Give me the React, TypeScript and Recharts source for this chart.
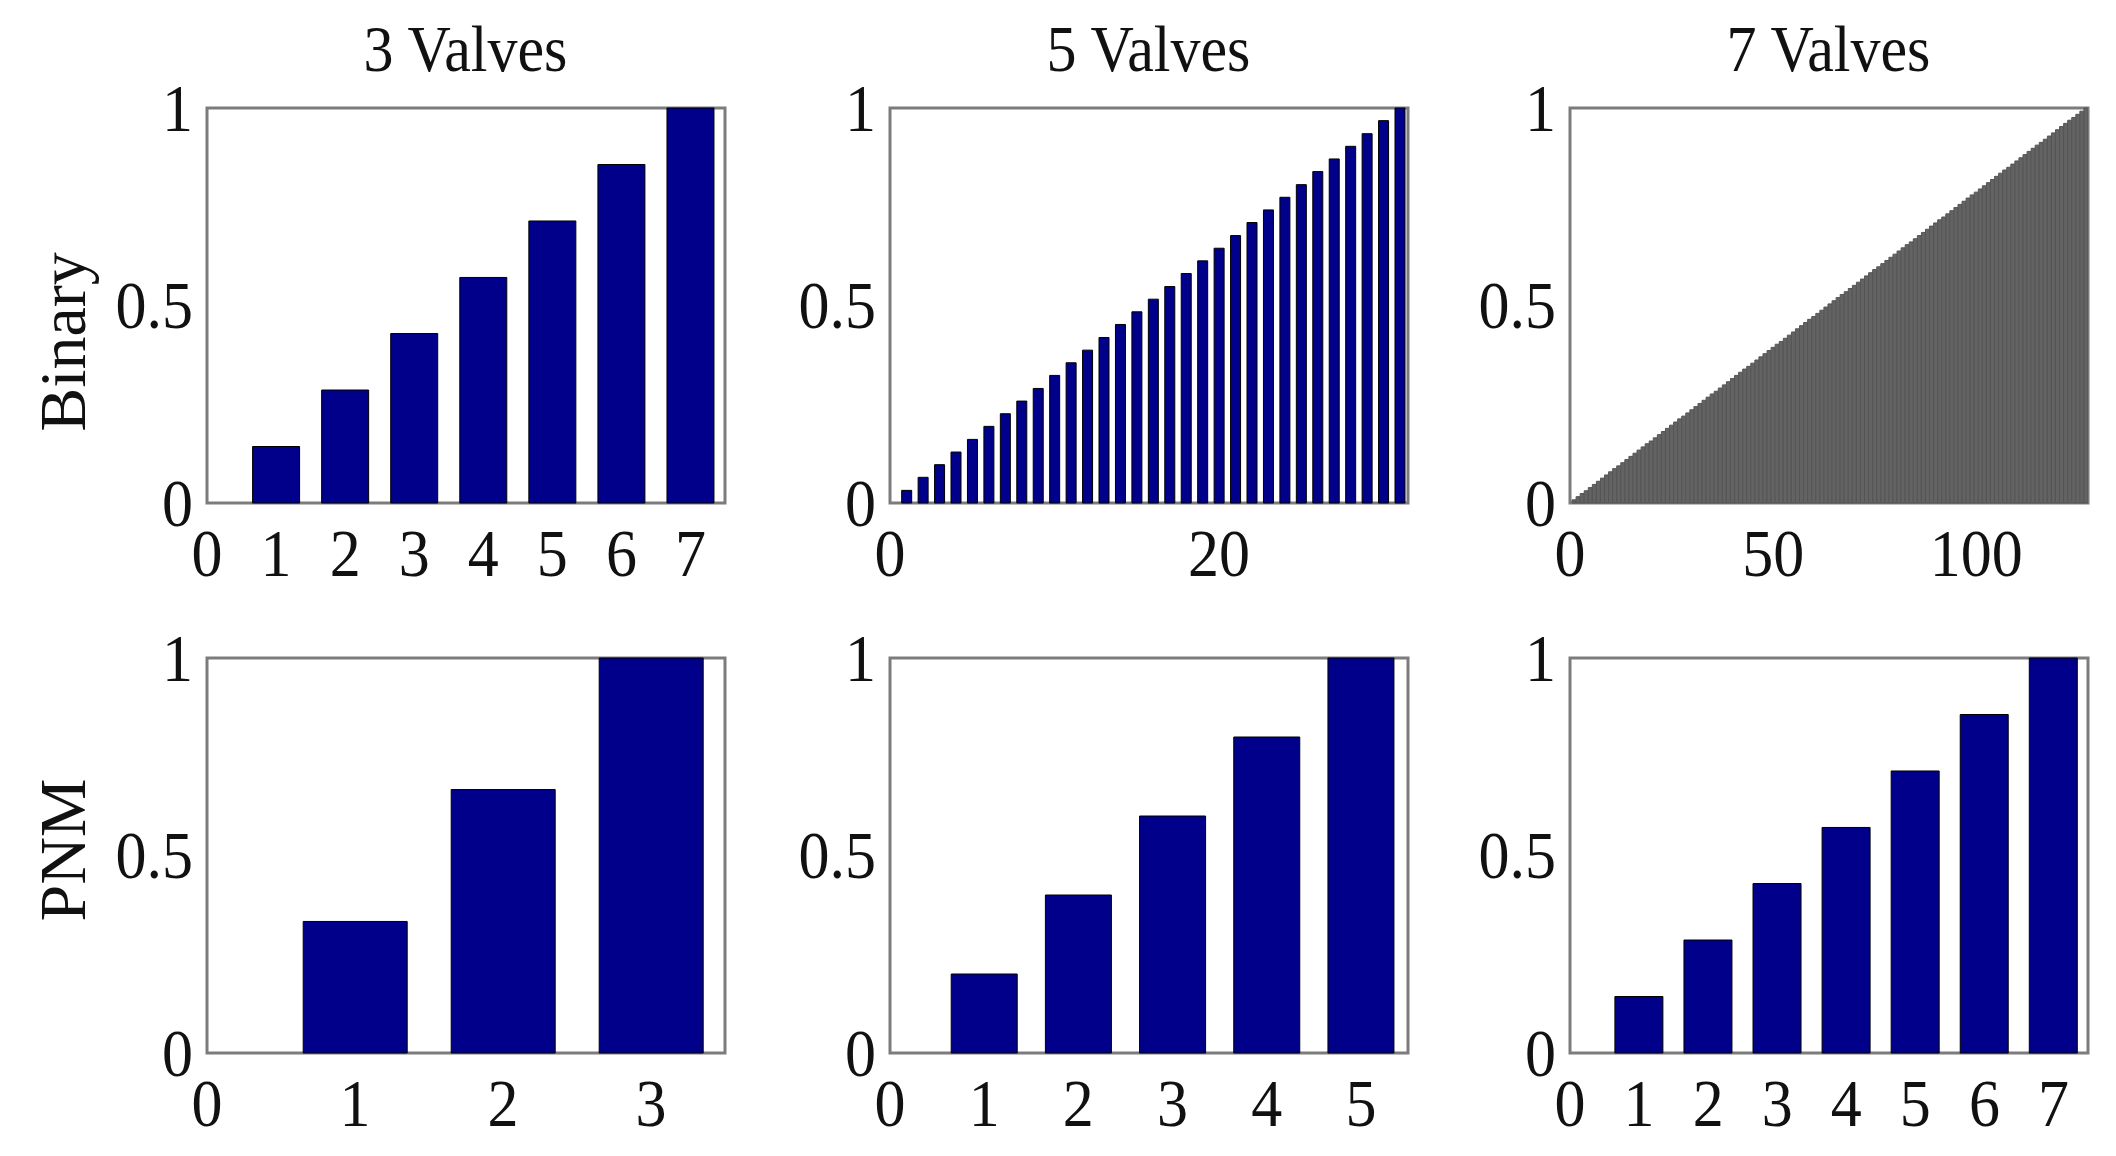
import React from "react";
import { BarChart, Bar, XAxis, YAxis, ReferenceArea } from "recharts";

// bar heights (normalised opening per valve state)
const binary3 = [0.143, 0.286, 0.429, 0.571, 0.714, 0.857, 1.0];
const binary5 = [
  0.032, 0.065, 0.097, 0.129, 0.161, 0.194, 0.226, 0.258, 0.29, 0.323, 0.355,
  0.387, 0.419, 0.452, 0.484, 0.516, 0.548, 0.581, 0.613, 0.645, 0.677, 0.71,
  0.742, 0.774, 0.806, 0.839, 0.871, 0.903, 0.935, 0.968, 1.0,
];
const binary7 = [
  0.008, 0.016, 0.024, 0.031, 0.039, 0.047, 0.055, 0.063, 0.071, 0.079, 0.087,
  0.094, 0.102, 0.11, 0.118, 0.126, 0.134, 0.142, 0.15, 0.157, 0.165, 0.173,
  0.181, 0.189, 0.197, 0.205, 0.213, 0.22, 0.228, 0.236, 0.244, 0.252, 0.26,
  0.268, 0.276, 0.283, 0.291, 0.299, 0.307, 0.315, 0.323, 0.331, 0.339, 0.346,
  0.354, 0.362, 0.37, 0.378, 0.386, 0.394, 0.402, 0.409, 0.417, 0.425, 0.433,
  0.441, 0.449, 0.457, 0.465, 0.472, 0.48, 0.488, 0.496, 0.504, 0.512, 0.52,
  0.528, 0.535, 0.543, 0.551, 0.559, 0.567, 0.575, 0.583, 0.591, 0.598, 0.606,
  0.614, 0.622, 0.63, 0.638, 0.646, 0.654, 0.661, 0.669, 0.677, 0.685, 0.693,
  0.701, 0.709, 0.717, 0.724, 0.732, 0.74, 0.748, 0.756, 0.764, 0.772, 0.78,
  0.787, 0.795, 0.803, 0.811, 0.819, 0.827, 0.835, 0.843, 0.85, 0.858, 0.866,
  0.874, 0.882, 0.89, 0.898, 0.906, 0.913, 0.921, 0.929, 0.937, 0.945, 0.953,
  0.961, 0.969, 0.976, 0.984, 0.992, 1.0,
];
const pnm3 = [0.333, 0.667, 1.0];
const pnm5 = [0.2, 0.4, 0.6, 0.8, 1.0];
const pnm7 = [0.143, 0.286, 0.429, 0.571, 0.714, 0.857, 1.0];

const titles = ["3 Valves", "5 Valves", "7 Valves"];
const rowLabels = ["Binary", "PNM"];
const yTicks = [0, 0.5, 1];
const ticks3 = [0, 1, 2, 3, 4, 5, 6, 7];
const ticks5 = [0, 20];
const ticks7 = [0, 50, 100];
const ticksPnm3 = [0, 1, 2, 3];
const ticksPnm5 = [0, 1, 2, 3, 4, 5];
const ticksPnm7 = [0, 1, 2, 3, 4, 5, 6, 7];

const FONT = "'Liberation Serif', 'Times New Roman', serif";
const NAVY = "#00008a";
const BOX = "#7c7c7c";
const PW = 517;
const PH = 394;
const LEFTS = [207, 890, 1570];
const TOPS = [109, 659];
const MT = 60;

const XTick = (props: any) => {
  const { x, y, payload } = props;
  return (
    <g transform={`translate(${x},${y})`}>
      <text transform="scale(1,1.08)" y={68} textAnchor="middle" fontFamily={FONT} fontSize={62} fill="#111">
        {payload.value}
      </text>
    </g>
  );
};

const YTick = (props: any) => {
  const { x, y, payload } = props;
  return (
    <g transform={`translate(${x},${y})`}>
      <text transform="scale(1,1.08)" x={-14} y={21} textAnchor="end" fontFamily={FONT} fontSize={62} fill="#111">
        {payload.value}
      </text>
    </g>
  );
};

type PanelProps = {
  values: number[];
  xTicks: number[];
  xMax: number;
  gap: string;
  fill: string;
  stroke: string;
  col: number;
  row: number;
};

function Panel({ values, xTicks, xMax, gap, fill, stroke, col, row }: PanelProps) {
  const data = values.map((v, i) => ({ x: i + 1, v }));
  const inner = xTicks.filter((t) => t > 0 && t < xMax);
  return (
    <div style={{ position: "absolute", left: LEFTS[col] - 150, top: TOPS[row] - MT }}>
      <BarChart
        width={150 + PW + 20}
        height={MT + PH + 100}
        data={data}
        margin={{ top: MT - 1, right: 19, bottom: 0, left: 0 }}
        barCategoryGap={gap}
      >
        <XAxis
          xAxisId="t"
          orientation="top"
          dataKey="x"
          type="number"
          domain={[0, xMax]}
          allowDataOverflow
          ticks={inner}
          interval={0}
          height={1}
          mirror
          tick={false}
          tickSize={8}
          tickLine={{ stroke: "#555", strokeWidth: 2 }}
          axisLine={false}
        />
        <XAxis
          xAxisId="b"
          dataKey="x"
          type="number"
          domain={[0, xMax]}
          allowDataOverflow
          ticks={xTicks}
          interval={0}
          height={100}
          tickSize={0}
          tickMargin={0}
          tickLine={false}
          tick={<XTick />}
          axisLine={false}
        />
        <YAxis
          yAxisId="l"
          domain={[0, 1]}
          ticks={yTicks}
          interval={0}
          width={150}
          tickSize={0}
          tickMargin={0}
          tickLine={false}
          tick={<YTick />}
          axisLine={false}
        />
        <YAxis
          yAxisId="r"
          orientation="right"
          domain={[0, 1]}
          allowDataOverflow
          ticks={[0.5]}
          width={1}
          mirror
          tick={false}
          tickSize={8}
          tickLine={{ stroke: "#555", strokeWidth: 2 }}
          axisLine={false}
        />
        <Bar
          xAxisId="b"
          yAxisId="l"
          dataKey="v"
          fill={fill}
          stroke={stroke}
          strokeWidth={1}
          isAnimationActive={false}
        />
        <ReferenceArea
          xAxisId="b"
          yAxisId="l"
          x1={0}
          x2={xMax}
          y1={0}
          y2={1}
          fill="none"
          fillOpacity={0}
          stroke={BOX}
          strokeWidth={3}
          ifOverflow="visible"
        />
      </BarChart>
    </div>
  );
}

export default function App() {
  return (
    <div style={{ position: "absolute", left: 0, top: 0, width: 2116, height: 1156, background: "#fff" }}>
      <Panel values={binary3} xTicks={ticks3} xMax={7.5} gap="16%" fill={NAVY} stroke="#000" col={0} row={0} />
      <Panel values={binary5} xTicks={ticks5} xMax={31.5} gap="21%" fill={NAVY} stroke="#000" col={1} row={0} />
      <Panel values={binary7} xTicks={ticks7} xMax={127.5} gap="0%" fill="#636363" stroke="#555" col={2} row={0} />
      <Panel values={pnm3} xTicks={ticksPnm3} xMax={3.5} gap="15%" fill={NAVY} stroke="#000" col={0} row={1} />
      <Panel values={pnm5} xTicks={ticksPnm5} xMax={5.5} gap="15%" fill={NAVY} stroke="#000" col={1} row={1} />
      <Panel values={pnm7} xTicks={ticksPnm7} xMax={7.5} gap="15%" fill={NAVY} stroke="#000" col={2} row={1} />
      <svg width={2116} height={1156} style={{ position: "absolute", left: 0, top: 0, pointerEvents: "none" }}>
        {titles.map((t, i) => (
          <text
            key={t}
            transform={`translate(${LEFTS[i] + PW / 2},71) scale(1,1.08)`}
            textAnchor="middle"
            fontFamily={FONT}
            fontSize={60}
            fill="#111"
          >
            {t}
          </text>
        ))}
        <text transform="translate(85,342) rotate(-90)" textAnchor="middle" fontFamily={FONT} fontSize={66} fill="#111">
          {rowLabels[0]}
        </text>
        <text transform="translate(85,850) rotate(-90)" textAnchor="middle" fontFamily={FONT} fontSize={66} fill="#111">
          {rowLabels[1]}
        </text>
      </svg>
    </div>
  );
}
